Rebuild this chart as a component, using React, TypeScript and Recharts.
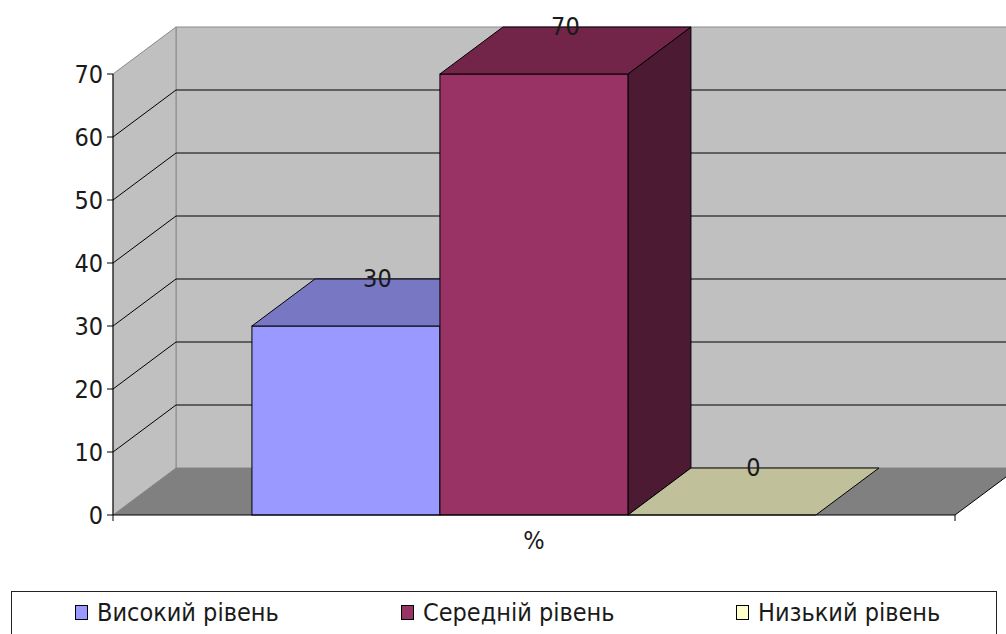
import React from "react";
import { BarChart, Bar, XAxis, YAxis, ReferenceArea, ReferenceLine, Legend } from "recharts";

const categories = ["%"];
const seriesNames = ["Високий рівень", "Середній рівень", "Низький рівень"];
const highValues = [30];
const midValues = [70];
const lowValues = [0];
const yTicks = [0, 10, 20, 30, 40, 50, 60, 70];
const gridValues = [10, 20, 30, 40, 50, 60];

const data = categories.map((name, i) => ({
  name,
  high: highValues[i],
  mid: midValues[i],
  low: lowValues[i],
}));

// depth offset of the 3D effect
const DX = 63;
const DY = -47;

const FONT = "'DejaVu Sans Condensed', 'DejaVu Sans', sans-serif";
const TEXT = "#1a1a1a";
const FS = 25;

const legendItems = [
  { name: seriesNames[0], color: "#9999ff", left: 63 },
  { name: seriesNames[1], color: "#993366", left: 389 },
  { name: seriesNames[2], color: "#ffffcc", left: 724 },
];

function make3DBar(front: string, top: string, side: string) {
  // eslint-disable-next-line @typescript-eslint/no-explicit-any
  return (props: any) => {
    const { x, y, width, height } = props;
    const h = Math.max(0, height);
    const topPts = `${x},${y} ${x + DX},${y + DY} ${x + width + DX},${y + DY} ${x + width},${y}`;
    const sidePts = `${x + width},${y} ${x + width + DX},${y + DY} ${x + width + DX},${y + h + DY} ${x + width},${y + h}`;
    return (
      <g>
        {h > 0 && <polygon points={sidePts} fill={side} stroke="#000" strokeWidth={1} />}
        {h > 0 && <rect x={x} y={y} width={width} height={h} fill={front} stroke="#000" strokeWidth={1} />}
        <polygon points={topPts} fill={top} stroke="#000" strokeWidth={1} />
      </g>
    );
  };
}

// eslint-disable-next-line @typescript-eslint/no-explicit-any
function Walls(props: any) {
  const { x, y, width, height } = props;
  const b = y + height;
  return (
    <g>
      {/* back wall */}
      <rect x={x + DX} y={y + DY} width={width + 100} height={height} fill="#c0c0c0" stroke="#8a8a8a" strokeWidth={1} />
      {/* left side wall */}
      <polygon
        points={`${x},${y} ${x + DX},${y + DY} ${x + DX},${b + DY} ${x},${b}`}
        fill="#c0c0c0"
        stroke="#8a8a8a"
        strokeWidth={1}
      />
      {/* floor */}
      <polygon
        points={`${x},${b} ${x + DX},${b + DY} ${x + width + DX},${b + DY} ${x + width},${b}`}
        fill="#808080"
      />
      <line x1={x + width} y1={b} x2={x + width + DX} y2={b + DY} stroke="#000" strokeWidth={1} />
      <line x1={x} y1={b} x2={x} y2={b + 6} stroke="#000" strokeWidth={1} />
      <line x1={x + width} y1={b} x2={x + width} y2={b + 6} stroke="#000" strokeWidth={1} />
    </g>
  );
}

// eslint-disable-next-line @typescript-eslint/no-explicit-any
function GridLine(props: any) {
  const { x1, y1, x2, y2 } = props;
  return (
    <g>
      <line x1={x1} y1={y1} x2={x1 + DX} y2={y1 + DY} stroke="#000" strokeWidth={1} />
      <line x1={x1 + DX} y1={y1 + DY} x2={x2 + DX + 100} y2={y2 + DY} stroke="#000" strokeWidth={1} />
    </g>
  );
}

// eslint-disable-next-line @typescript-eslint/no-explicit-any
function BarValue(props: any) {
  const { x, y, width, value } = props;
  return (
    <text
      x={x + width / 2 + DX / 2}
      y={y + DY - 1}
      textAnchor="middle"
      dominantBaseline="central"
      fontSize={FS}
      fill={TEXT}
    >
      {value}
    </text>
  );
}

function LegendBox() {
  return (
    <div
      style={{
        position: "relative",
        width: 986,
        height: 50,
        border: "1px solid #222",
        boxSizing: "border-box",
        background: "#fff",
      }}
    >
      {legendItems.map((it) => (
        <div
          key={it.name}
          style={{
            position: "absolute",
            left: it.left,
            top: 6,
            display: "flex",
            alignItems: "center",
            fontSize: FS,
            color: TEXT,
            whiteSpace: "nowrap",
          }}
        >
          <span
            style={{
              display: "inline-block",
              width: 11,
              height: 13,
              background: it.color,
              border: "1px solid #000",
              marginRight: 9,
            }}
          />
          {it.name}
        </div>
      ))}
    </div>
  );
}

export default function App() {
  return (
    <div style={{ position: "absolute", left: 0, top: 0, fontFamily: FONT, fontStretch: "condensed", background: "#fff" }}>
      <BarChart
        width={1006}
        height={634}
        data={data}
        margin={{ top: 74, right: 51, bottom: 39, left: 53 }}
        barCategoryGap="16.5%"
        barGap={0}
      >
        <ReferenceArea y1={0} y2={70} shape={<Walls />} zIndex={50} ifOverflow="visible" />
        {gridValues.map((v) => (
          <ReferenceLine key={v} y={v} shape={<GridLine />} zIndex={60} />
        ))}
        <XAxis
          dataKey="name"
          axisLine={{ stroke: "#000" }}
          tickLine={false}
          tickMargin={10}
          tick={{ fontSize: FS, fill: TEXT }}
        />
        <YAxis
          domain={[0, 70]}
          ticks={yTicks}
          width={60}
          axisLine={{ stroke: "#000" }}
          tickLine={{ stroke: "#000" }}
          tickSize={6}
          tickMargin={4}
          tick={{ fontSize: FS, fill: TEXT }}
        />
        <Bar
          dataKey="high"
          name={seriesNames[0]}
          fill="#9999ff"
          shape={make3DBar("#9999ff", "#7777c4", "#5a5a99")}
          label={<BarValue />}
          isAnimationActive={false}
        />
        <Bar
          dataKey="mid"
          name={seriesNames[1]}
          fill="#993366"
          shape={make3DBar("#993366", "#722449", "#4c1a33")}
          label={<BarValue />}
          isAnimationActive={false}
        />
        <Bar
          dataKey="low"
          name={seriesNames[2]}
          fill="#ffffcc"
          shape={make3DBar("#ffffcc", "#c0c09a", "#99997a")}
          label={<BarValue />}
          isAnimationActive={false}
        />
        <Legend
          content={() => <LegendBox />}
          wrapperStyle={{ position: "absolute", left: 11, top: 591, bottom: "auto", width: 986, height: 50 }}
        />
      </BarChart>
    </div>
  );
}
